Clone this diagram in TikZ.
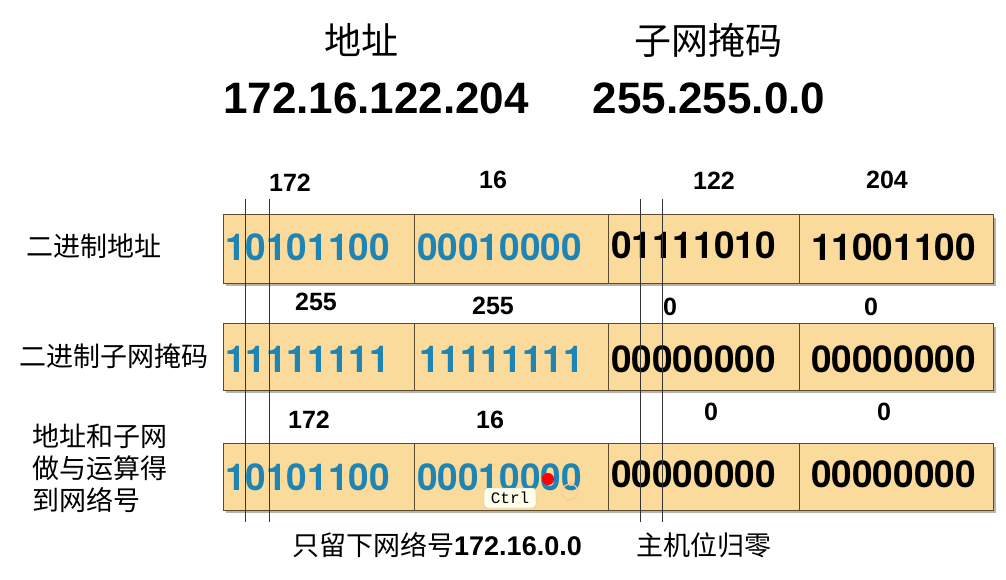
\documentclass[tikz,border=0pt]{standalone}
\usepackage{fontspec}
\setmainfont{Liberation Sans}
\newfontfamily\heros{TeX Gyre Heros}
\newfontfamily\cjk{Noto Sans CJK SC}
\newfontfamily\monof{Liberation Mono}
\definecolor{cellfill}{HTML}{FADB9B}
\definecolor{cellline}{HTML}{5C4A2C}
\definecolor{bitblue}{HTML}{1E84B3}
\definecolor{shadowc}{HTML}{B8B4AC}
\tikzset{
  cell/.style={fill=cellfill,draw=cellline,line width=0.9pt},
  shade/.style={fill=shadowc},
  bits/.style={anchor=west,inner sep=0pt,font=\fontsize{37}{37}\selectfont\heros\bfseries},
  bitsb/.style={bits,text=bitblue},
  bitsk/.style={bits,text=black},
  num/.style={inner sep=0pt,font=\fontsize{25}{25}\selectfont\bfseries},
  rowlab/.style={inner sep=0pt,font=\fontsize{27}{27}\selectfont\cjk},
  guide/.style={draw=black!80,line width=0.7pt},
}
\begin{document}
\begin{tikzpicture}[x=1pt,y=-1pt]
\fill[white] (0,0) rectangle (1006,580);
\useasboundingbox (0,0) rectangle (1006,580);

% titles
\node[inner sep=0pt,font=\fontsize{37}{37}\selectfont\cjk] (t1) at (361,40) {地址};
\node[inner sep=0pt,font=\fontsize{37}{37}\selectfont\cjk] (t2) at (708,40) {子网掩码};
\node[inner sep=0pt,font=\fontsize{44}{44}\selectfont\bfseries] (ip) at (376,98) {172.16.122.204};
\node[inner sep=0pt,font=\fontsize{44}{44}\selectfont\bfseries] (mk) at (709,98) {255.255.0.0};

% row boxes with shadow
\foreach \ya/\yb in {214/283, 323/390, 443/510}{
  \fill[shade] (226,\ya+4) rectangle (996,\yb+3);
  \draw[cell] (223,\ya) rectangle (414,\yb);
  \draw[cell] (414,\ya) rectangle (608,\yb);
  \draw[cell] (608,\ya) rectangle (799,\yb);
  \draw[cell] (799,\ya) rectangle (993,\yb);
}

% row 1
\node[bitsb] (a1) at (225,247) {10101100};
\node[bitsb] (a2) at (417,247) {00010000};
\node[bitsk] (a3) at (611,245) {01111010};
\node[bitsk] (a4) at (811,247) {11001100};
% row 2
\node[bitsb] (m1) at (225,359) {11111111};
\node[bitsb] (m2) at (419,359) {11111111};
\node[bitsk] (m3) at (611,359) {00000000};
\node[bitsk] (m4) at (811,359) {00000000};
% row 3
\node[bitsb] (n1) at (225,477) {10101100};
\node[bitsb] (n2) at (417,477) {00010000};
\node[bitsk] (n3) at (611,474) {00000000};
\node[bitsk] (n4) at (811,474) {00000000};

% decimal labels
\node[num] (d11) at (290,183) {172};
\node[num] (d12) at (493,180) {16};
\node[num] (d13) at (714,181) {122};
\node[num] (d14) at (887,180) {204};
\node[num] (d21) at (316,302) {255};
\node[num] (d22) at (493,306) {255};
\node[num] (d23) at (670,307) {0};
\node[num] (d24) at (871,307) {0};
\node[num] (d31) at (309,420) {172};
\node[num] (d32) at (490,420) {16};
\node[num] (d33) at (711,412) {0};
\node[num] (d34) at (884,412) {0};

% guide lines
\foreach \x in {245,269,640,662}{
  \draw[guide] (\x,199) -- (\x,522);
}

% row labels
\node[rowlab] (l1) at (94,246) {二进制地址};
\node[rowlab] (l2) at (114,356) {二进制子网掩码};
\node[rowlab,anchor=west] (l3a) at (32,436) {地址和子网};
\node[rowlab,anchor=west] (l3b) at (32,468) {做与运算得};
\node[rowlab,anchor=west] (l3c) at (32,500) {到网络号};

% bottom notes
\node[inner sep=0pt,anchor=west] (b1) at (292,545) {{\fontsize{27}{27}\selectfont\cjk 只留下网络号}{\fontsize{27}{27}\selectfont\bfseries 172.16.0.0}};
\node[rowlab,anchor=west] (b2) at (636,545) {主机位归零};

% screen artifacts
\draw[orange!40,line width=1.2pt] (570,492) circle (8);
\node[draw=gray!60,fill=yellow!8,rounded corners=3pt,minimum width=52pt,minimum height=20pt,inner sep=2pt,font=\fontsize{16}{16}\selectfont\monof] (ctrl) at (510,498) {Ctrl};
\fill[red] (548,479) circle (6);
\end{tikzpicture}
\end{document}
